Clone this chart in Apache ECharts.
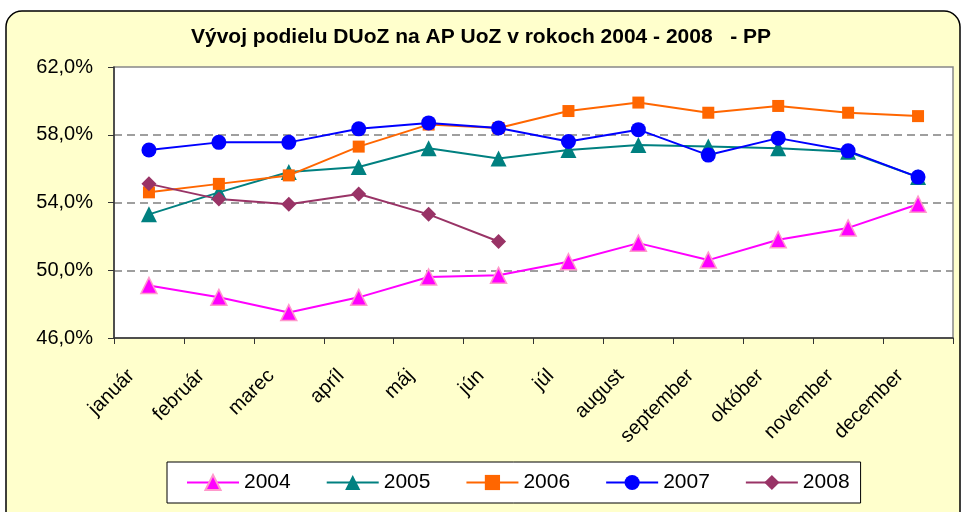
<!DOCTYPE html>
<html>
<head>
<meta charset="utf-8">
<script src="https://cdn.jsdelivr.net/npm/echarts@6/dist/echarts.min.js"></script>
<style>
  html, body { margin: 0; padding: 0; background: #fff; }
  #main { width: 962px; height: 512px; }
</style>
</head>
<body>
<div id="main"></div>
<script>
// months on the x axis
var months = ['január', 'február', 'marec', 'apríl', 'máj', 'jún', 'júl', 'august', 'september', 'október', 'november', 'december'];

// share in %
var y2004 = [49.1, 48.4, 47.5, 48.4, 49.6, 49.7, 50.5, 51.6, 50.6, 51.8, 52.5, 53.9];
var y2005 = [53.3, 54.6, 55.8, 56.1, 57.2, 56.6, 57.1, 57.4, 57.3, 57.2, 57.0, 55.5];
var y2006 = [54.6, 55.1, 55.6, 57.3, 58.6, 58.4, 59.4, 59.9, 59.3, 59.7, 59.3, 59.1];
var y2007 = [57.1, 57.55, 57.55, 58.35, 58.7, 58.4, 57.6, 58.3, 56.8, 57.8, 57.05, 55.5];
var y2008 = [55.1, 54.2, 53.9, 54.5, 53.3, 51.7];

var yMin = 46, yMax = 62, yStep = 4;

var font = 'Arial, "Liberation Sans", sans-serif';

var myChart = echarts.init(document.getElementById('main'));

function mkSeries(name, data, color, symbol, size, border) {
  return {
    name: name,
    type: 'line',
    data: data,
    symbol: symbol,
    symbolSize: size,
    lineStyle: { color: color, width: 2 },
    itemStyle: { color: color, borderColor: border || color, borderWidth: border ? 1.5 : 0 },
    emphasis: { disabled: true }
  };
}

var option = {
  backgroundColor: '#ffffff',
  animation: false,
  graphic: [{
    type: 'rect',
    z: -10,
    shape: { x: 6, y: 11, width: 954, height: 520, r: 16 },
    style: { fill: '#FFFFCC', stroke: '#000', lineWidth: 1.5 }
  }],
  title: {
    text: 'Vývoj podielu DUoZ na AP UoZ v rokoch 2004 - 2008   - PP',
    left: 'center',
    top: 22,
    textStyle: { fontFamily: font, fontSize: 21, fontWeight: 'bold', color: '#000' }
  },
  legend: {
    left: 167,
    top: 462,
    padding: [10, 11, 10, 19],
    itemGap: 35,
    itemWidth: 52,
    itemHeight: 19,
    borderColor: '#000',
    borderWidth: 1,
    backgroundColor: '#ffffff',
    textStyle: { fontFamily: font, fontSize: 21, color: '#000' },
    data: ['2004', '2005', '2006', '2007', '2008']
  },
  grid: {
    left: 114, right: 9, top: 67, bottom: 174,
    show: true,
    backgroundColor: '#ffffff',
    borderColor: '#888',
    borderWidth: 1.5
  },
  xAxis: {
    type: 'category',
    data: months,
    boundaryGap: true,
    axisLine: { lineStyle: { color: '#333', width: 1.5 } },
    axisTick: { show: true, length: 6, lineStyle: { color: '#333' } },
    axisLabel: {
      rotate: 45,
      margin: 17,
      padding: [0, 25, 0, 0],
      fontFamily: font,
      fontSize: 20,
      color: '#000',
      interval: 0
    }
  },
  yAxis: {
    type: 'value',
    min: yMin,
    max: yMax,
    interval: yStep,
    axisLine: { show: true, lineStyle: { color: '#333', width: 1.5 } },
    axisTick: { show: true, length: 6, lineStyle: { color: '#333' } },
    axisLabel: {
      margin: 21,
      fontFamily: font,
      fontSize: 20,
      color: '#000',
      formatter: function (v) { return v.toFixed(1).replace('.', ',') + '%'; }
    },
    splitLine: {
      show: true,
      showMinLine: false,
      showMaxLine: false,
      lineStyle: { color: '#808080', type: [8, 5], width: 1.5 }
    }
  },
  series: [
    mkSeries('2004', y2004, '#FF00FF', 'triangle', 16, '#FF99CC'),
    mkSeries('2005', y2005, '#008080', 'triangle', 16),
    mkSeries('2006', y2006, '#FF6600', 'rect', 12),
    mkSeries('2007', y2007, '#0000FF', 'circle', 15),
    mkSeries('2008', y2008, '#993366', 'diamond', 15)
  ]
};

option && myChart.setOption(option);
</script>
</body>
</html>
